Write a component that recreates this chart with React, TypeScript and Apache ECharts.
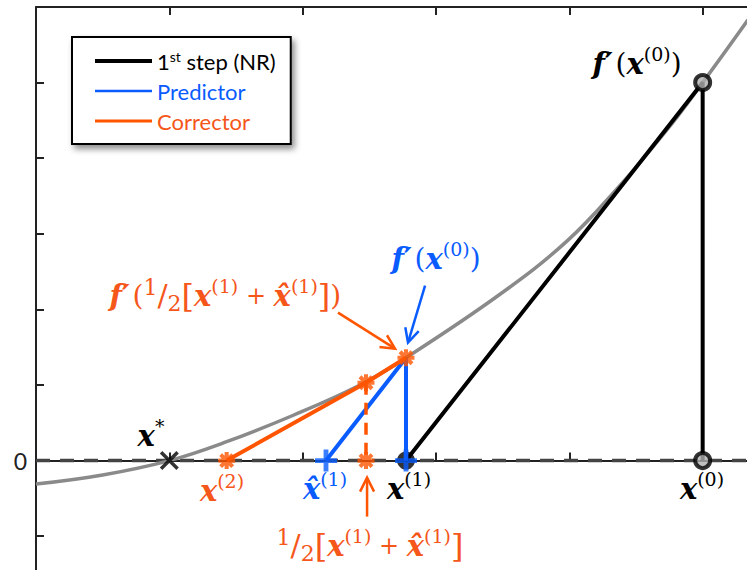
import React, { useEffect, useRef } from 'react';
import * as echarts from 'echarts';

// ---- data ----
const curveX = [0, 0.5, 1.0, 1.43, 1.93, 2.43, 2.775, 3.48, 3.98, 4.36, 4.73, 5.0, 5.34];
const curveY = [-0.31, -0.19, 0, 0.25, 0.6, 1.0, 1.36, 2.2, 2.9, 3.6, 4.37, 5.0, 5.83];

const xStar = 1.0;
const x0 = 5.0;
const fx0 = 5.0;
const x1 = 2.775;
const fx1 = 1.36;
const xHat1 = 2.175;
const xMid = 2.475;
const fMid = 1.03;
const x2 = 1.43;

const legendNames = ['1st step (NR)', 'Predictor', 'Corrector'];
const yTickLabels: Record<number, string> = { 0: '0' };

// annotation anchors (data coordinates)
const labelAnchors = {
  star: [0.8625, 0.33],
  x2: [1.395, -0.397],
  xHat1: [2.1675, -0.37],
  x1: [2.7975, -0.37],
  x0: [4.995, -0.37],
  fx0Top: [4.5075, 5.25],
  fx0Blue: [3.0, 2.672],
  fMidOrange: [1.42, 2.183],
  midOrange: [2.505, -1.124],
};
const arrowAnchors = {
  blue: [[2.918, 2.315], [2.79, 1.561]],
  orangeDiag: [[2.265, 1.958], [2.693, 1.481]],
  orangeUp: [[2.483, -0.741], [2.483, -0.225]],
};

const BLACK = '#000000';
const BLUE = '#0a5cff';
const ORANGE = '#ff5500';
const ORANGE_TXT = '#f5561a';
const GRAY = '#8a8a8a';
const AXIS = '#222222';

function barsPath(angles: number[], halfLen: number, halfW: number): string {
  let d = '';
  for (const a of angles) {
    const r = (a * Math.PI) / 180;
    const c = Math.cos(r), s = Math.sin(r);
    const pts = [
      [-halfLen, -halfW],
      [halfLen, -halfW],
      [halfLen, halfW],
      [-halfLen, halfW],
    ].map(([x, y]) => [x * c - y * s, x * s + y * c]);
    d += `M${pts[0][0].toFixed(3)} ${pts[0][1].toFixed(3)}`;
    for (let i = 1; i < 4; i++) d += ` L${pts[i][0].toFixed(3)} ${pts[i][1].toFixed(3)}`;
    d += ' Z ';
  }
  return 'path://' + d.trim();
}

const ASTERISK = barsPath([0, 45, 90, 135], 10, 2.4);
const PLUS = barsPath([0, 90], 10, 2.2);
const CROSS = barsPath([45, 135], 10, 1.5);

const SERIF = '"DejaVu Serif", "Liberation Serif", serif';
const SANS = 'Lato, "Open Sans", sans-serif';

function richFor(color: string) {
  const base = { fill: color, fontFamily: SERIF, lineHeight: 38 };
  return {
    x: { ...base, fontStyle: 'italic', fontWeight: 'bold', fontSize: 29 },
    f: { ...base, fontStyle: 'italic', fontWeight: 'bold', fontSize: 29, padding: [0, 3, 0, 0] },
    p: { ...base, fontSize: 28 },
    s: { ...base, fontSize: 19, lineHeight: 25, verticalAlign: 'top' },
    br: { ...base, fontSize: 32 },
    op: { ...base, fontSize: 24 },
    n: { ...base, fontSize: 22, lineHeight: 26, verticalAlign: 'top' },
    sl: { ...base, fontSize: 30 },
    d: { ...base, fontSize: 22, lineHeight: 26, verticalAlign: 'bottom' },
  };
}

const bracketExpr = '{br|[}{x|x}{s|(1)}{op| + }{x|x\u0302}{s|(1)}{br|]}';

const labels = [
  { at: labelAnchors.star, color: BLACK, text: '{x|x}{s|*}' },
  { at: labelAnchors.x2, color: ORANGE_TXT, text: '{x|x}{s|(2)}' },
  { at: labelAnchors.xHat1, color: BLUE, text: '{x|x\u0302}{s|(1)}' },
  { at: labelAnchors.x1, color: BLACK, text: '{x|x}{s|(1)}' },
  { at: labelAnchors.x0, color: BLACK, text: '{x|x}{s|(0)}' },
  { at: labelAnchors.fx0Top, color: BLACK, text: '{f|f\u2032}{p|(}{x|x}{s|(0)}{p|)}' },
  { at: labelAnchors.fx0Blue, color: BLUE, text: '{f|f\u2032}{p|(}{x|x}{s|(0)}{p|)}' },
  { at: labelAnchors.fMidOrange, color: ORANGE_TXT, text: '{f|f\u2032}{p|(}{n|1}{sl|/}{d|2}' + bracketExpr + '{p|)}' },
  { at: labelAnchors.midOrange, color: ORANGE_TXT, text: '{n|1}{sl|/}{d|2}' + bracketExpr },
];

const arrows = [
  { pts: arrowAnchors.blue, color: BLUE },
  { pts: arrowAnchors.orangeDiag, color: ORANGE },
  { pts: arrowAnchors.orangeUp, color: ORANGE },
];

function arrowGraphics(p0: number[], p1: number[], color: string) {
  const dx = p1[0] - p0[0], dy = p1[1] - p0[1];
  const L = Math.hypot(dx, dy);
  const ux = dx / L, uy = dy / L;
  const hl = 14, hw = 7;
  const bx = p1[0] - ux * hl, by = p1[1] - uy * hl;
  const left = [bx - uy * hw, by + ux * hw];
  const right = [bx + uy * hw, by - ux * hw];
  return [
    { type: 'line', z: 100, shape: { x1: p0[0], y1: p0[1], x2: p1[0] - ux * 1, y2: p1[1] - uy * 1 }, style: { stroke: color, lineWidth: 2.5 } },
    { type: 'polyline', z: 100, shape: { points: [left, p1, right] }, style: { stroke: color, lineWidth: 2.5, fill: null, lineJoin: 'miter' } },
  ];
}

export default function App() {
  const ref = useRef<HTMLDivElement>(null);
  useEffect(() => {
    if (!ref.current) return;
    const chart = echarts.init(ref.current, null, { renderer: 'svg' });
    const axisLineStyle = { color: AXIS, width: 2 };
    const xAxisCommon = {
      type: 'value',
      min: 0,
      max: 5.5,
      interval: 1,
      axisLine: { show: true, lineStyle: axisLineStyle },
      axisTick: { show: true, inside: true, length: 8, lineStyle: axisLineStyle },
      axisLabel: { show: false },
      splitLine: { show: false },
    };
    const hiddenSymbol = { opacity: 0 };
    const option: any = {
      animation: false,
      backgroundColor: '#ffffff',
      grid: { left: 36, top: 7, width: 733.33, height: 604.8 },
      xAxis: [
        { ...xAxisCommon, position: 'bottom' },
        { ...xAxisCommon, position: 'top' },
      ],
      yAxis: {
        type: 'value',
        min: -2,
        max: 6,
        interval: 1,
        axisLine: { show: true, lineStyle: axisLineStyle },
        axisTick: { show: true, inside: true, length: 8, lineStyle: axisLineStyle },
        axisLabel: {
          show: true,
          margin: 9,
          fontSize: 23,
          fontFamily: SANS,
          color: AXIS,
          formatter: (v: number) => yTickLabels[v] ?? '',
        },
        splitLine: { show: false },
      },
      legend: {
        left: 72,
        top: 37,
        orient: 'vertical',
        selectedMode: false,
        itemWidth: 57,
        itemHeight: 14,
        itemGap: 6,
        padding: [12, 15, 11, 21],
        backgroundColor: '#ffffff',
        borderColor: '#000000',
        borderWidth: 2,
        borderRadius: 0,
        shadowColor: 'rgba(0,0,0,0.45)',
        shadowBlur: 6,
        shadowOffsetX: 3,
        shadowOffsetY: 4,
        textStyle: {
          fontSize: 22,
          lineHeight: 24,
          fontFamily: SANS,
          rich: {
            sup: { fontSize: 14, lineHeight: 14, verticalAlign: 'top', color: '#000', fontFamily: SANS },
          },
        },
        formatter: (name: string) => (name === legendNames[0] ? '1{sup|st} step (NR)' : name),
        data: [
          { name: legendNames[0], textStyle: { color: '#000' }, lineStyle: { width: 4, color: BLACK }, itemStyle: hiddenSymbol },
          { name: legendNames[1], textStyle: { color: BLUE }, lineStyle: { width: 2.5, color: BLUE }, itemStyle: hiddenSymbol },
          { name: legendNames[2], textStyle: { color: ORANGE_TXT }, lineStyle: { width: 3, color: ORANGE }, itemStyle: hiddenSymbol },
        ],
      },
      series: [
        {
          name: 'zero',
          type: 'line',
          data: [[0, 0], [5.5, 0]],
          symbol: 'none',
          lineStyle: { color: '#444444', width: 3.5, type: [14, 10] },
          z: 1,
        },
        {
          name: 'f',
          type: 'line',
          data: curveX.map((x, i) => [x, curveY[i]]),
          symbol: 'none',
          smooth: 0.4,
          lineStyle: { color: GRAY, width: 3.5 },
          z: 2,
        },
        {
          name: 'x1dot',
          type: 'scatter',
          data: [[x1, 0]],
          symbol: 'circle',
          symbolSize: 18,
          itemStyle: { color: BLACK },
          z: 3,
        },
        {
          name: legendNames[0],
          type: 'line',
          data: [[x1, 0], [x0, fx0], [x0, 0]],
          symbol: 'none',
          itemStyle: { color: BLACK },
          lineStyle: { color: BLACK, width: 4 },
          z: 4,
        },
        {
          name: legendNames[1],
          type: 'line',
          data: [[xHat1, 0], [x1, fx1], [x1, 0]],
          symbol: 'none',
          itemStyle: { color: BLUE },
          lineStyle: { color: BLUE, width: 4 },
          z: 5,
        },
        {
          name: 'midDash',
          type: 'line',
          data: [[xMid, fMid], [xMid, 0]],
          symbol: 'none',
          lineStyle: { color: ORANGE, width: 3.5, type: [12, 8] },
          z: 5,
        },
        {
          name: legendNames[2],
          type: 'line',
          data: [[x2, 0], [xMid, fMid], [x1, fx1]],
          symbol: 'none',
          itemStyle: { color: ORANGE },
          lineStyle: { color: ORANGE, width: 4 },
          z: 6,
        },
        {
          name: 'x0pts',
          type: 'scatter',
          data: [[x0, fx0], [x0, 0]],
          symbol: 'circle',
          symbolSize: 15,
          itemStyle: { color: '#b0b0b0', borderColor: BLACK, borderWidth: 4 },
          z: 7,
        },
        {
          name: 'root',
          type: 'scatter',
          data: [[xStar, 0]],
          symbol: CROSS,
          symbolSize: 19,
          itemStyle: { color: BLACK },
          z: 7,
        },
        {
          name: 'plus',
          type: 'scatter',
          data: [[xHat1, 0], [x1, 0]],
          symbol: PLUS,
          symbolSize: 22,
          itemStyle: { color: BLUE },
          z: 8,
        },
        {
          name: 'ast',
          type: 'scatter',
          data: [[x2, 0], [xMid, 0], [xMid, fMid], [x1, fx1]],
          symbol: ASTERISK,
          symbolSize: 17,
          itemStyle: { color: ORANGE },
          z: 9,
        },
      ],
    };
    chart.setOption(option);

    const toPx = (p: number[]) => chart.convertToPixel({ seriesIndex: 0 }, p) as number[];
    const graphics: any[] = [];
    for (const a of arrows) {
      graphics.push(...arrowGraphics(toPx(a.pts[0]), toPx(a.pts[1]), a.color));
    }
    for (const l of labels) {
      const [px, py] = toPx(l.at);
      graphics.push({
        type: 'text',
        z: 101,
        x: px,
        y: py,
        style: {
          text: l.text,
          rich: richFor(l.color),
          fill: l.color,
          align: 'center',
          verticalAlign: 'middle',
        },
      });
    }
    chart.setOption({ graphic: graphics });

    return () => chart.dispose();
  }, []);

  return (
    <div style={{ position: 'fixed', left: 0, top: 0, width: 747, height: 570, overflow: 'hidden', background: '#fff' }}>
      <div ref={ref} style={{ width: 800, height: 640 }} />
    </div>
  );
}
